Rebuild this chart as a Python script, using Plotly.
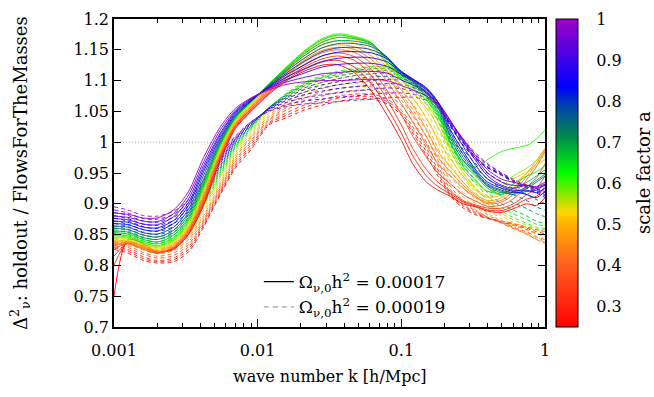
import plotly.graph_objects as go
from plotly.colors import sample_colorscale

# ---------------- data ----------------
K = [0.001, 0.00125, 0.0016, 0.002, 0.0026, 0.0033, 0.0042, 0.0055, 0.007, 0.009,
     0.012, 0.016, 0.021, 0.028, 0.036, 0.047, 0.062, 0.08, 0.1, 0.12,
     0.15, 0.18, 0.22, 0.27, 0.33, 0.4, 0.5, 0.6, 0.75, 0.87, 1.0]

SCALE_FACTORS = [0.26, 0.29, 0.33, 0.36, 0.40, 0.44, 0.47, 0.51, 0.54, 0.57, 0.61,
                 0.64, 0.68, 0.71, 0.75, 0.79, 0.83, 0.87, 0.91, 0.95, 1.00]

# solid: Omega_nu,0 h^2 = 0.00017
solid_a026 = [0.750, 0.842, 0.835, 0.822, 0.826, 0.850, 0.897, 0.970, 1.022, 1.050, 1.078, 1.100, 1.115, 1.125, 1.126, 1.113, 1.083, 1.043, 1.003, 0.965, 0.935, 0.922, 0.912, 0.900, 0.895, 0.888, 0.886, 0.892, 0.900, 0.897, 0.910]
solid_a029 = [0.815, 0.836, 0.832, 0.821, 0.827, 0.851, 0.899, 0.972, 1.024, 1.051, 1.080, 1.102, 1.118, 1.130, 1.133, 1.122, 1.095, 1.055, 1.015, 0.978, 0.945, 0.928, 0.916, 0.903, 0.896, 0.890, 0.889, 0.896, 0.908, 0.912, 0.928]
solid_a033 = [0.800, 0.838, 0.830, 0.820, 0.828, 0.853, 0.902, 0.975, 1.026, 1.053, 1.082, 1.105, 1.122, 1.135, 1.140, 1.133, 1.108, 1.068, 1.028, 0.990, 0.955, 0.935, 0.920, 0.905, 0.898, 0.893, 0.893, 0.900, 0.915, 0.925, 0.945]
solid_a036 = [0.826, 0.836, 0.828, 0.820, 0.829, 0.855, 0.905, 0.977, 1.027, 1.054, 1.084, 1.107, 1.126, 1.140, 1.145, 1.139, 1.118, 1.083, 1.045, 1.010, 0.975, 0.950, 0.932, 0.915, 0.904, 0.896, 0.898, 0.908, 0.928, 0.942, 0.965]
solid_a040 = [0.832, 0.835, 0.826, 0.820, 0.830, 0.857, 0.908, 0.980, 1.029, 1.056, 1.086, 1.110, 1.130, 1.145, 1.150, 1.146, 1.128, 1.098, 1.063, 1.033, 0.995, 0.965, 0.945, 0.925, 0.910, 0.900, 0.903, 0.915, 0.940, 0.960, 0.985]
solid_a044 = [0.835, 0.836, 0.827, 0.822, 0.832, 0.859, 0.911, 0.982, 1.030, 1.057, 1.088, 1.112, 1.133, 1.149, 1.154, 1.151, 1.134, 1.107, 1.074, 1.047, 1.008, 0.975, 0.952, 0.930, 0.912, 0.902, 0.906, 0.920, 0.945, 0.965, 0.988]
solid_a047 = [0.838, 0.838, 0.829, 0.824, 0.834, 0.861, 0.914, 0.985, 1.032, 1.059, 1.090, 1.115, 1.136, 1.153, 1.158, 1.155, 1.140, 1.115, 1.085, 1.060, 1.020, 0.985, 0.960, 0.935, 0.915, 0.905, 0.910, 0.925, 0.950, 0.970, 0.990]
solid_a051 = [0.840, 0.840, 0.831, 0.826, 0.836, 0.863, 0.917, 0.988, 1.034, 1.061, 1.092, 1.118, 1.140, 1.158, 1.164, 1.161, 1.148, 1.120, 1.093, 1.072, 1.038, 1.005, 0.972, 0.945, 0.922, 0.910, 0.915, 0.932, 0.950, 0.965, 0.980]
solid_a054 = [0.843, 0.842, 0.833, 0.828, 0.838, 0.866, 0.920, 0.990, 1.035, 1.062, 1.094, 1.120, 1.144, 1.163, 1.170, 1.167, 1.155, 1.125, 1.100, 1.082, 1.055, 1.025, 0.985, 0.950, 0.925, 0.912, 0.920, 0.940, 0.952, 0.962, 0.972]
solid_a057 = [0.845, 0.844, 0.835, 0.830, 0.840, 0.869, 0.923, 0.992, 1.036, 1.063, 1.094, 1.121, 1.146, 1.166, 1.173, 1.170, 1.158, 1.126, 1.101, 1.085, 1.062, 1.034, 0.990, 0.955, 0.935, 0.920, 0.928, 0.945, 0.958, 0.970, 0.982]
solid_a061 = [0.848, 0.846, 0.837, 0.832, 0.842, 0.872, 0.926, 0.994, 1.038, 1.065, 1.095, 1.123, 1.148, 1.168, 1.176, 1.172, 1.162, 1.128, 1.102, 1.088, 1.068, 1.042, 0.998, 0.968, 0.960, 0.972, 0.985, 0.990, 0.995, 1.005, 1.020]
solid_a064 = [0.850, 0.848, 0.839, 0.835, 0.845, 0.875, 0.929, 0.996, 1.039, 1.065, 1.095, 1.122, 1.146, 1.166, 1.174, 1.170, 1.161, 1.132, 1.105, 1.092, 1.072, 1.046, 0.998, 0.960, 0.938, 0.920, 0.918, 0.932, 0.945, 0.952, 0.962]
solid_a068 = [0.853, 0.851, 0.842, 0.838, 0.849, 0.878, 0.932, 0.998, 1.040, 1.066, 1.094, 1.120, 1.143, 1.162, 1.170, 1.168, 1.160, 1.135, 1.108, 1.095, 1.075, 1.050, 1.000, 0.965, 0.945, 0.925, 0.915, 0.925, 0.935, 0.945, 0.955]
solid_a071 = [0.856, 0.854, 0.845, 0.842, 0.853, 0.882, 0.936, 1.000, 1.041, 1.066, 1.093, 1.118, 1.140, 1.158, 1.165, 1.164, 1.158, 1.137, 1.110, 1.098, 1.079, 1.055, 1.006, 0.970, 0.948, 0.928, 0.918, 0.918, 0.928, 0.938, 0.948]
solid_a075 = [0.860, 0.858, 0.849, 0.846, 0.857, 0.886, 0.940, 1.002, 1.043, 1.067, 1.092, 1.116, 1.136, 1.153, 1.160, 1.160, 1.155, 1.138, 1.112, 1.100, 1.082, 1.058, 1.010, 0.975, 0.950, 0.930, 0.920, 0.915, 0.925, 0.935, 0.945]
solid_a079 = [0.864, 0.862, 0.853, 0.851, 0.862, 0.891, 0.946, 1.005, 1.044, 1.067, 1.091, 1.113, 1.131, 1.147, 1.153, 1.154, 1.150, 1.137, 1.114, 1.102, 1.085, 1.062, 1.015, 0.980, 0.952, 0.932, 0.922, 0.918, 0.920, 0.922, 0.932]
solid_a083 = [0.868, 0.866, 0.858, 0.856, 0.868, 0.897, 0.952, 1.008, 1.046, 1.068, 1.090, 1.110, 1.125, 1.140, 1.146, 1.147, 1.145, 1.135, 1.115, 1.103, 1.088, 1.065, 1.020, 0.985, 0.955, 0.935, 0.925, 0.920, 0.915, 0.910, 0.920]
solid_a087 = [0.872, 0.870, 0.862, 0.861, 0.873, 0.902, 0.957, 1.012, 1.048, 1.069, 1.089, 1.106, 1.119, 1.131, 1.136, 1.138, 1.137, 1.130, 1.113, 1.102, 1.087, 1.065, 1.028, 0.993, 0.962, 0.940, 0.928, 0.922, 0.922, 0.918, 0.925]
solid_a091 = [0.876, 0.874, 0.867, 0.866, 0.879, 0.908, 0.962, 1.015, 1.050, 1.070, 1.088, 1.102, 1.112, 1.122, 1.126, 1.128, 1.128, 1.123, 1.110, 1.100, 1.085, 1.065, 1.035, 1.000, 0.970, 0.945, 0.930, 0.925, 0.930, 0.925, 0.930]
solid_a095 = [0.880, 0.878, 0.872, 0.871, 0.884, 0.914, 0.968, 1.020, 1.052, 1.071, 1.087, 1.098, 1.105, 1.111, 1.113, 1.115, 1.115, 1.112, 1.101, 1.093, 1.080, 1.062, 1.034, 1.003, 0.974, 0.950, 0.935, 0.930, 0.930, 0.927, 0.932]
solid_a100 = [0.885, 0.883, 0.877, 0.877, 0.890, 0.920, 0.975, 1.025, 1.055, 1.072, 1.085, 1.094, 1.098, 1.100, 1.100, 1.101, 1.102, 1.100, 1.092, 1.085, 1.075, 1.058, 1.032, 1.005, 0.978, 0.955, 0.940, 0.935, 0.930, 0.928, 0.935]

# dashed: Omega_nu,0 h^2 = 0.00019
dashed_a026 = [0.826, 0.820, 0.808, 0.804, 0.806, 0.822, 0.862, 0.915, 0.958, 0.988, 1.028, 1.040, 1.052, 1.060, 1.066, 1.070, 1.070, 1.062, 1.044, 1.015, 0.978, 0.945, 0.912, 0.893, 0.882, 0.876, 0.872, 0.868, 0.862, 0.858, 0.855]
dashed_a029 = [0.829, 0.823, 0.811, 0.806, 0.809, 0.826, 0.865, 0.917, 0.961, 0.992, 1.030, 1.044, 1.056, 1.065, 1.071, 1.074, 1.074, 1.066, 1.048, 1.020, 0.984, 0.950, 0.915, 0.896, 0.884, 0.877, 0.871, 0.866, 0.860, 0.855, 0.851]
dashed_a033 = [0.832, 0.826, 0.814, 0.808, 0.812, 0.830, 0.868, 0.920, 0.964, 0.996, 1.032, 1.048, 1.060, 1.069, 1.075, 1.078, 1.078, 1.070, 1.052, 1.025, 0.990, 0.955, 0.918, 0.898, 0.886, 0.877, 0.870, 0.865, 0.858, 0.852, 0.848]
dashed_a036 = [0.835, 0.829, 0.818, 0.812, 0.816, 0.834, 0.871, 0.923, 0.968, 1.000, 1.035, 1.053, 1.066, 1.075, 1.081, 1.084, 1.084, 1.077, 1.060, 1.034, 0.999, 0.962, 0.923, 0.902, 0.888, 0.878, 0.869, 0.862, 0.854, 0.847, 0.842]
dashed_a040 = [0.838, 0.832, 0.821, 0.815, 0.820, 0.838, 0.874, 0.926, 0.971, 1.003, 1.037, 1.057, 1.071, 1.081, 1.087, 1.090, 1.090, 1.083, 1.068, 1.043, 1.008, 0.970, 0.928, 0.905, 0.890, 0.878, 0.868, 0.860, 0.850, 0.842, 0.836]
dashed_a044 = [0.840, 0.835, 0.825, 0.819, 0.824, 0.842, 0.878, 0.929, 0.975, 1.007, 1.040, 1.061, 1.076, 1.087, 1.093, 1.096, 1.097, 1.091, 1.077, 1.053, 1.018, 0.980, 0.936, 0.911, 0.895, 0.882, 0.870, 0.861, 0.851, 0.843, 0.838]
dashed_a047 = [0.843, 0.838, 0.828, 0.822, 0.828, 0.846, 0.881, 0.932, 0.978, 1.010, 1.043, 1.065, 1.081, 1.092, 1.098, 1.102, 1.103, 1.098, 1.085, 1.062, 1.028, 0.990, 0.945, 0.918, 0.900, 0.885, 0.872, 0.862, 0.852, 0.845, 0.840]
dashed_a051 = [0.846, 0.841, 0.831, 0.826, 0.832, 0.850, 0.886, 0.936, 0.982, 1.013, 1.047, 1.070, 1.086, 1.097, 1.103, 1.108, 1.109, 1.105, 1.094, 1.072, 1.039, 1.001, 0.955, 0.926, 0.906, 0.890, 0.876, 0.866, 0.857, 0.851, 0.848]
dashed_a054 = [0.849, 0.844, 0.834, 0.829, 0.836, 0.854, 0.890, 0.940, 0.985, 1.016, 1.050, 1.074, 1.091, 1.102, 1.108, 1.113, 1.115, 1.112, 1.102, 1.082, 1.050, 1.012, 0.965, 0.935, 0.912, 0.895, 0.880, 0.870, 0.862, 0.857, 0.855]
dashed_a057 = [0.852, 0.847, 0.837, 0.832, 0.840, 0.858, 0.894, 0.944, 0.988, 1.019, 1.053, 1.077, 1.094, 1.105, 1.112, 1.117, 1.119, 1.118, 1.109, 1.090, 1.060, 1.024, 0.975, 0.942, 0.918, 0.900, 0.884, 0.874, 0.865, 0.860, 0.858]
dashed_a061 = [0.855, 0.850, 0.840, 0.835, 0.843, 0.862, 0.898, 0.947, 0.991, 1.021, 1.055, 1.080, 1.097, 1.108, 1.115, 1.120, 1.123, 1.123, 1.115, 1.098, 1.070, 1.035, 0.985, 0.950, 0.925, 0.905, 0.888, 0.878, 0.868, 0.862, 0.860]
dashed_a064 = [0.858, 0.853, 0.843, 0.838, 0.846, 0.865, 0.901, 0.950, 0.993, 1.023, 1.056, 1.079, 1.095, 1.106, 1.113, 1.118, 1.122, 1.122, 1.115, 1.099, 1.073, 1.040, 0.990, 0.956, 0.932, 0.912, 0.894, 0.884, 0.874, 0.867, 0.864]
dashed_a068 = [0.861, 0.856, 0.846, 0.842, 0.850, 0.869, 0.905, 0.953, 0.995, 1.024, 1.056, 1.078, 1.093, 1.104, 1.110, 1.116, 1.119, 1.120, 1.114, 1.100, 1.075, 1.045, 0.995, 0.962, 0.938, 0.918, 0.900, 0.890, 0.880, 0.872, 0.868]
dashed_a071 = [0.864, 0.859, 0.850, 0.846, 0.854, 0.873, 0.908, 0.956, 0.997, 1.026, 1.056, 1.077, 1.091, 1.101, 1.107, 1.112, 1.115, 1.116, 1.111, 1.099, 1.078, 1.050, 1.003, 0.971, 0.948, 0.929, 0.912, 0.902, 0.892, 0.884, 0.879]
dashed_a075 = [0.868, 0.863, 0.854, 0.850, 0.858, 0.877, 0.912, 0.959, 0.999, 1.027, 1.056, 1.075, 1.088, 1.097, 1.103, 1.108, 1.111, 1.112, 1.108, 1.098, 1.080, 1.055, 1.010, 0.980, 0.958, 0.940, 0.925, 0.915, 0.905, 0.895, 0.890]
dashed_a079 = [0.872, 0.867, 0.858, 0.855, 0.863, 0.882, 0.917, 0.962, 1.001, 1.028, 1.056, 1.073, 1.085, 1.093, 1.098, 1.103, 1.106, 1.107, 1.104, 1.096, 1.081, 1.058, 1.018, 0.988, 0.965, 0.949, 0.936, 0.925, 0.915, 0.907, 0.900]
dashed_a083 = [0.877, 0.872, 0.863, 0.860, 0.868, 0.887, 0.921, 0.966, 1.003, 1.030, 1.055, 1.071, 1.081, 1.088, 1.093, 1.097, 1.100, 1.102, 1.100, 1.094, 1.082, 1.062, 1.025, 0.995, 0.972, 0.958, 0.946, 0.935, 0.925, 0.918, 0.910]
dashed_a087 = [0.881, 0.876, 0.867, 0.865, 0.873, 0.892, 0.926, 0.969, 1.005, 1.031, 1.054, 1.068, 1.077, 1.083, 1.087, 1.090, 1.093, 1.095, 1.094, 1.089, 1.079, 1.061, 1.028, 0.998, 0.974, 0.959, 0.947, 0.937, 0.927, 0.920, 0.913]
dashed_a091 = [0.886, 0.881, 0.872, 0.870, 0.878, 0.897, 0.930, 0.972, 1.006, 1.032, 1.053, 1.065, 1.072, 1.077, 1.080, 1.083, 1.086, 1.088, 1.087, 1.083, 1.075, 1.060, 1.030, 1.000, 0.975, 0.960, 0.948, 0.938, 0.928, 0.922, 0.915]
dashed_a095 = [0.890, 0.885, 0.876, 0.875, 0.883, 0.902, 0.934, 0.975, 1.008, 1.033, 1.051, 1.061, 1.067, 1.070, 1.073, 1.075, 1.078, 1.080, 1.080, 1.078, 1.072, 1.058, 1.031, 1.003, 0.979, 0.963, 0.949, 0.939, 0.929, 0.924, 0.918]
dashed_a100 = [0.895, 0.890, 0.881, 0.880, 0.888, 0.906, 0.938, 0.978, 1.010, 1.033, 1.050, 1.058, 1.062, 1.064, 1.066, 1.068, 1.070, 1.072, 1.073, 1.073, 1.068, 1.055, 1.032, 1.005, 0.982, 0.965, 0.950, 0.940, 0.930, 0.925, 0.920]

SOLID_CURVES = [solid_a026, solid_a029, solid_a033, solid_a036, solid_a040, solid_a044, solid_a047,
                solid_a051, solid_a054, solid_a057, solid_a061, solid_a064, solid_a068, solid_a071,
                solid_a075, solid_a079, solid_a083, solid_a087, solid_a091, solid_a095, solid_a100]
DASHED_CURVES = [dashed_a026, dashed_a029, dashed_a033, dashed_a036, dashed_a040, dashed_a044, dashed_a047,
                 dashed_a051, dashed_a054, dashed_a057, dashed_a061, dashed_a064, dashed_a068, dashed_a071,
                 dashed_a075, dashed_a079, dashed_a083, dashed_a087, dashed_a091, dashed_a095, dashed_a100]

REFERENCE_LEVEL = 1.0
LEGEND_LABELS = ["Ω<sub>ν,0</sub>h<sup>2</sup> = 0.00017", "Ω<sub>ν,0</sub>h<sup>2</sup> = 0.00019"]
X_TICKS = [0.001, 0.01, 0.1, 1]
X_TICKTEXT = ["0.001", "0.01", "0.1", "1"]
X_MINOR_TICKS = [m * d for d in (0.001, 0.01, 0.1) for m in (2, 3, 4, 5, 6, 7, 8, 9)]
Y_TICKS = [0.7, 0.75, 0.8, 0.85, 0.9, 0.95, 1.0, 1.05, 1.1, 1.15, 1.2]
Y_TICKTEXT = ["0.7", "0.75", "0.8", "0.85", "0.9", "0.95", "1", "1.05", "1.1", "1.15", "1.2"]
CB_TICKS = [0.3, 0.4, 0.5, 0.6, 0.7, 0.8, 0.9, 1.0]
CB_TICKTEXT = ["0.3", "0.4", "0.5", "0.6", "0.7", "0.8", "0.9", "1"]
A_MIN, A_MAX = 0.25, 1.0

# ---------------- style ----------------
FONT = "DejaVu Serif"
FS_TICK = 16
FS_XTITLE = 16
FS_YTITLE = 18
FS_LEGEND = 17
COLORSCALE = [
    [0.0, "#ff0000"],
    [0.2, "#ff6020"],
    [0.333, "#ffb000"],
    [0.373, "#ffd700"],
    [0.5, "#00ff00"],
    [0.62, "#008850"],
    [0.72, "#0040b0"],
    [0.78, "#0000ff"],
    [1.0, "#a000c8"],
]


def color_for(a):
    t = (a - A_MIN) / (A_MAX - A_MIN)
    return sample_colorscale(COLORSCALE, [t])[0]


fig = go.Figure()

# reference line at 1
fig.add_trace(go.Scatter(x=[K[0], K[-1]], y=[REFERENCE_LEVEL, REFERENCE_LEVEL], mode="lines",
                         line=dict(color="#a8a8a8", width=1, dash="1px,2px"),
                         showlegend=False, hoverinfo="skip"))

for a, ys in zip(SCALE_FACTORS, DASHED_CURVES):
    fig.add_trace(go.Scatter(x=K, y=ys, mode="lines",
                             line=dict(color=color_for(a), width=1, dash="4px,3px",
                                       shape="spline", smoothing=0.8),
                             opacity=0.9, showlegend=False))
for a, ys in zip(SCALE_FACTORS, SOLID_CURVES):
    fig.add_trace(go.Scatter(x=K, y=ys, mode="lines",
                             line=dict(color=color_for(a), width=1,
                                       shape="spline", smoothing=0.8),
                             opacity=0.9, showlegend=False))

# legend entries
fig.add_trace(go.Scatter(x=[None], y=[None], mode="lines", name=LEGEND_LABELS[0],
                         line=dict(color="black", width=1.3)))
fig.add_trace(go.Scatter(x=[None], y=[None], mode="lines", name=LEGEND_LABELS[1],
                         line=dict(color="#a0a0a0", width=1.3, dash="5px,4px")))

# colorbar carrier
fig.add_trace(go.Scatter(
    x=[None], y=[None], mode="markers", showlegend=False, hoverinfo="skip",
    marker=dict(color=[A_MIN], cmin=A_MIN, cmax=A_MAX, colorscale=COLORSCALE, showscale=True,
                colorbar=dict(
                    x=1.0255, xanchor="left", xpad=0, ypad=0,
                    y=0.5, yanchor="middle", len=1.0, lenmode="fraction",
                    thickness=22, thicknessmode="pixels",
                    outlinecolor="black", outlinewidth=1,
                    tickvals=CB_TICKS, ticktext=CB_TICKTEXT,
                    ticks="outside", ticklen=15, tickcolor="rgba(0,0,0,0)",
                    tickfont=dict(family=FONT, size=FS_TICK, color="black"),
                ))))

fig.update_layout(
    width=654, height=397,
    margin=dict(l=114, r=109, t=10, b=70),
    paper_bgcolor="white", plot_bgcolor="white",
    font=dict(family=FONT, size=FS_TICK, color="black"),
    showlegend=True,
    legend=dict(x=0.336, y=0.204, xanchor="left", yanchor="top",
                bgcolor="rgba(0,0,0,0)", font=dict(family=FONT, size=FS_LEGEND, color="black"),
                tracegroupgap=0, itemwidth=30),
    xaxis=dict(type="log", range=[-3, 0], showgrid=False, zeroline=False,
               showline=True, linecolor="black", linewidth=1.5, mirror="ticks",
               ticks="inside", ticklen=8, tickcolor="black", tickwidth=1,
               tickmode="array", tickvals=X_TICKS, ticktext=X_TICKTEXT,
               ticklabelstandoff=8,
               tickfont=dict(family=FONT, size=FS_TICK, color="black"),
               minor=dict(ticks="inside", ticklen=4, tickcolor="black", tickwidth=1,
                          tickmode="array", tickvals=X_MINOR_TICKS, showgrid=False)),
    yaxis=dict(range=[0.7, 1.2], showgrid=False, zeroline=False,
               showline=True, linecolor="black", linewidth=1.5, mirror="ticks",
               ticks="inside", ticklen=7, tickcolor="black", tickwidth=1,
               tickmode="array", tickvals=Y_TICKS, ticktext=Y_TICKTEXT,
               tickfont=dict(family=FONT, size=FS_TICK, color="black")),
    annotations=[
        dict(text="wave number k [h/Mpc]", xref="paper", yref="paper", x=0.5, y=-0.161,
             xanchor="center", yanchor="middle", showarrow=False,
             font=dict(family=FONT, size=FS_XTITLE, color="black")),
        dict(text="Δ<sup>2</sup><sub>ν</sub>: holdout / FlowsForTheMasses", xref="paper", yref="paper",
             x=-0.218, y=0.5, xanchor="center", yanchor="middle", textangle=-90, showarrow=False,
             font=dict(family=FONT, size=FS_YTITLE, color="black")),
        dict(text="scale factor a", xref="paper", yref="paper",
             x=1.2274, y=0.5, xanchor="center", yanchor="middle", textangle=-90, showarrow=False,
             font=dict(family=FONT, size=FS_YTITLE, color="black")),
    ],
)

fig.write_html("out.html")
